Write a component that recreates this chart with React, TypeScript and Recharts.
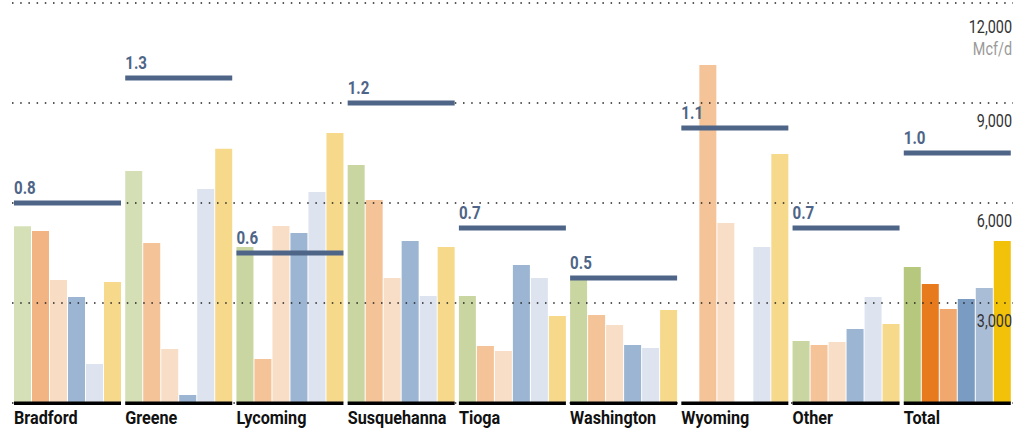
import React from 'react';
import { ComposedChart, Bar, XAxis, YAxis, CartesianGrid, Cell } from 'recharts';

const counties = ['Bradford', 'Greene', 'Lycoming', 'Susquehanna', 'Tioga', 'Washington', 'Wyoming', 'Other', 'Total'];
const seriesA = [5300, 6960, 4680, 7140, 3210, 3700, null, 1860, 4080];
const seriesB = [5160, 4800, 1320, 6090, 1710, 2640, 10140, 1740, 3570];
const seriesC = [3690, 1620, 5310, 3750, 1560, 2340, 5400, 1830, 2820];
const seriesD = [3180, 240, 5100, 4860, 4140, 1740, null, 2220, 3120];
const seriesE = [1170, 6420, 6330, 3210, 3750, 1650, 4680, 3180, 3450];
const seriesF = [3630, 7630, 8100, 4680, 2610, 2790, 7470, 2370, 4860];
const ratios = [0.8, 1.3, 0.6, 1.2, 0.7, 0.5, 1.1, 0.7, 1.0];
const valueTicks = [3000, 6000, 9000, 12000];
const unitLabel = 'Mcf/d';

const seriesKeys = ['a', 'b', 'c', 'd', 'e', 'f'];
const seriesValues = [seriesA, seriesB, seriesC, seriesD, seriesE, seriesF];
const greenShades = ['#d5e0b7', '#d4dfb6', '#c9d6a1', '#c9d6a1', '#c9d6a1', '#c9d6a1', '#c9d6a1', '#c9d6a1', '#b5c87e'];
const orangeShades = ['#f2b483', '#f5c398', '#f5c398', '#f5c398', '#f5c398', '#f5c398', '#f5c398', '#f5c398', '#e87a1e'];
const peachShades = ['#f9dcc4', '#f9dec7', '#f9dec7', '#f9dec7', '#f9dec7', '#f9dec7', '#f9dec7', '#f9dec7', '#f0a86e'];
const blueShades = ['#9bb5d2', '#9bb5d2', '#9bb5d2', '#9bb5d2', '#9bb5d2', '#9bb5d2', '#9bb5d2', '#9bb5d2', '#7a9cc2'];
const paleShades = ['#dde4ef', '#dde4ef', '#dde4ef', '#dde4ef', '#dde4ef', '#dde4ef', '#dde4ef', '#dde4ef', '#aabdd6'];
const yellowShades = ['#f6d98b', '#f6d98b', '#f6d98b', '#f6d98b', '#f6d98b', '#f6d98b', '#f6d98b', '#f6d98b', '#f2c10a'];
const shadeSets = [greenShades, orangeShades, peachShades, blueShades, paleShades, yellowShades];

const data = counties.map((name, i) => {
  const row: any = { name, ratio: ratios[i] };
  seriesKeys.forEach((k, j) => {
    row[k] = seriesValues[j][i];
  });
  return row;
});

const FONT = "Roboto, 'DejaVu Sans Condensed', sans-serif";
const SLATE = '#4e6587';

const CountyTick = (props: any) => {
  const { x, y, payload } = props;
  const start = x - (payload.offset || 0) + 2;
  return (
    <text
      transform={`translate(${start},${y + 21}) scale(0.9,1)`}
      x={0}
      y={0}
      textAnchor="start"
      fontFamily={FONT}
      fontWeight="bold"
      fontSize={18}
      fill="#111"
    >
      {payload.value}
    </text>
  );
};

const ValueTick = (props: any) => {
  const { x, y, payload } = props;
  const isTop = payload.value === 12000;
  return (
    <g>
      <text
        transform={`translate(${x},${y + 24}) scale(0.8,1)`}
        x={0}
        y={0}
        textAnchor="end"
        fontFamily={FONT}
        fontSize={18}
        fill="#333"
      >
        {Number(payload.value).toLocaleString('en-US')}
      </text>
      {isTop ? (
        <text
          transform={`translate(${x},${y + 46}) scale(0.8,1)`}
          x={0}
          y={0}
          textAnchor="end"
          fontFamily={FONT}
          fontSize={18}
          fill="#9a9a9a"
        >
          {unitLabel}
        </text>
      ) : null}
    </g>
  );
};

const RatioShape = (props: any) => {
  const { x, y, width, height, value } = props;
  const v = Array.isArray(value) ? value[1] - value[0] : value;
  const base = y + height;
  return (
    <g>
      <rect x={x} y={base - 1.5} width={width} height={3.5} fill="#000" />
      <rect x={x} y={y - 2.5} width={width} height={5} fill={SLATE} />
      <text
        transform={`translate(${x},${y - 9}) scale(0.84,1)`}
        x={0}
        y={0}
        fontFamily={FONT}
        fontWeight="bold"
        fontSize={18}
        fill={SLATE}
      >
        {Number(v).toFixed(1)}
      </text>
    </g>
  );
};

export default function App() {
  return (
    <div style={{ position: 'absolute', left: 0, top: 0, width: 1029, height: 430, background: '#fff' }}>
      <ComposedChart
        width={1029}
        height={430}
        data={data}
        margin={{ top: 3, right: 16, bottom: 0, left: 12 }}
        barCategoryGap={2}
        barGap={1}
      >
        <XAxis
          xAxisId="bars"
          dataKey="name"
          axisLine={false}
          tickLine={false}
          tickSize={0}
          tickMargin={0}
          interval={0}
          height={27}
          tick={<CountyTick />}
        />
        <XAxis xAxisId="ratio" dataKey="name" hide />
        <YAxis
          yAxisId="mcf"
          orientation="right"
          domain={[0, 12000]}
          ticks={valueTicks}
          mirror
          axisLine={false}
          tickLine={false}
          tickSize={0}
          tickMargin={1}
          tick={<ValueTick />}
        />
        <YAxis yAxisId="ratio" hide domain={[0, 1.6]} />
        {seriesKeys.map((k, j) => (
          <Bar key={k} xAxisId="bars" yAxisId="mcf" dataKey={k} isAnimationActive={false}>
            {data.map((_, i) => (
              <Cell key={i} fill={shadeSets[j][i]} />
            ))}
          </Bar>
        ))}
        <CartesianGrid
          xAxisId="bars"
          yAxisId="mcf"
          vertical={false}
          stroke="#222"
          strokeWidth={1.5}
          strokeDasharray="1.5 6.7"
          {...({ zIndex: 350 } as any)}
        />
        <Bar
          xAxisId="ratio"
          yAxisId="ratio"
          dataKey="ratio"
          isAnimationActive={false}
          shape={<RatioShape />}
          {...({ zIndex: 450 } as any)}
        />
      </ComposedChart>
    </div>
  );
}
